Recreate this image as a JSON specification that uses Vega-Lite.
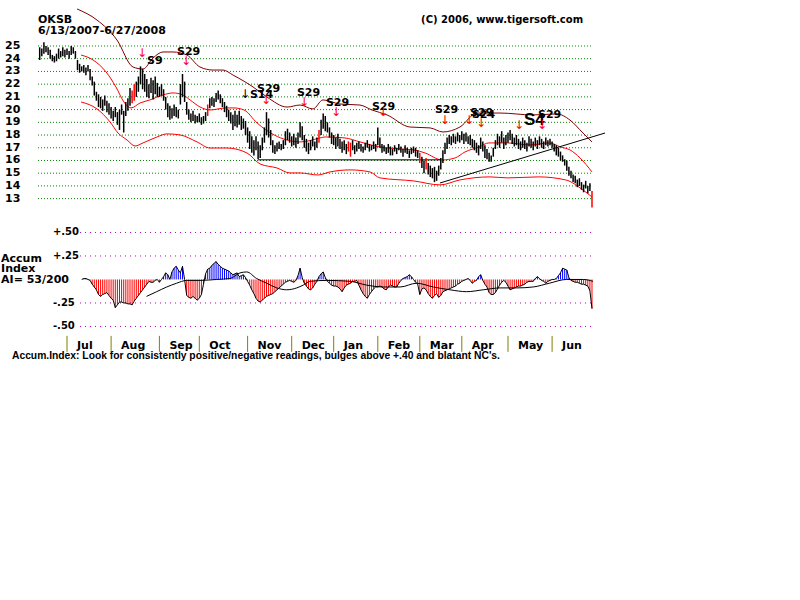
{
"$schema":"https://vega.github.io/schema/vega-lite/v6.json",
"width":800,"height":600,"padding":0,
"autosize":{"type":"fit","contains":"padding"},
"background":"white",
"config":{"view":{"stroke":null}},
"resolve":{"scale":{"y":"independent"}},
"datasets":{
"price":[
{"i":0,"h":24.9,"l":23.9},{"i":1,"h":24.8,"l":24.2},{"i":2,"h":25.3,"l":24.4},{"i":3,"h":25.0,"l":24.5},{"i":4,"h":24.9,"l":24.3},{"i":5,"h":24.7,"l":24.0},{"i":6,"h":24.3,"l":23.8},{"i":7,"h":24.2,"l":23.7},{"i":8,"h":24.4,"l":23.8},{"i":9,"h":24.8,"l":24.0},
{"i":10,"h":24.6,"l":24.1},{"i":11,"h":24.9,"l":24.2},{"i":12,"h":24.7,"l":24.1},{"i":13,"h":24.8,"l":24.3},{"i":14,"h":24.6,"l":24.0},{"i":15,"h":25.0,"l":24.3},{"i":16,"h":24.9,"l":24.4},{"i":17,"h":24.6,"l":24.0},{"i":18,"h":23.9,"l":23.1},{"i":19,"h":23.6,"l":22.9},
{"i":20,"h":23.4,"l":23.0},{"i":21,"h":23.5,"l":22.9},{"i":22,"h":23.3,"l":22.7},{"i":23,"h":23.5,"l":23.0},{"i":24,"h":23.2,"l":22.3},{"i":25,"h":22.6,"l":21.9},{"i":26,"h":22.2,"l":21.1},{"i":27,"h":21.4,"l":20.7},{"i":28,"h":21.2,"l":20.2},{"i":29,"h":21.0,"l":20.1},
{"i":30,"h":20.8,"l":19.9},{"i":31,"h":21.1,"l":20.3},{"i":32,"h":20.7,"l":19.8},{"i":33,"h":20.5,"l":19.6},{"i":34,"h":20.2,"l":19.3},{"i":35,"h":19.9,"l":19.1},{"i":36,"h":20.2,"l":19.4},{"i":37,"h":19.8,"l":18.8},{"i":38,"h":20.0,"l":18.4},{"i":39,"h":20.4,"l":19.6},
{"i":40,"h":19.9,"l":18.2},{"i":41,"h":20.6,"l":19.5},{"i":42,"h":20.9,"l":19.9},{"i":43,"h":21.7,"l":20.3},{"i":44,"h":21.5,"l":20.5},{"i":45,"h":22.0,"l":20.7},{"i":46,"h":22.2,"l":21.0},{"i":47,"h":22.6,"l":21.4},{"i":48,"h":23.4,"l":22.0},{"i":49,"h":23.2,"l":21.6},
{"i":50,"h":22.8,"l":21.4},{"i":51,"h":22.4,"l":21.0},{"i":52,"h":22.0,"l":20.9},{"i":53,"h":22.5,"l":21.3},{"i":54,"h":22.3,"l":20.8},{"i":55,"h":22.6,"l":21.2},{"i":56,"h":22.1,"l":21.0},{"i":57,"h":21.8,"l":21.0},{"i":58,"h":22.0,"l":21.1},{"i":59,"h":21.6,"l":20.7},
{"i":60,"h":21.0,"l":20.0},{"i":61,"h":20.5,"l":19.4},{"i":62,"h":20.3,"l":19.2},{"i":63,"h":20.1,"l":19.3},{"i":64,"h":20.4,"l":19.5},{"i":65,"h":20.2,"l":19.4},{"i":66,"h":20.0,"l":19.3},{"i":67,"h":22.0,"l":20.4},{"i":68,"h":22.8,"l":21.0},{"i":69,"h":22.2,"l":20.6},
{"i":70,"h":20.6,"l":19.6},{"i":71,"h":20.0,"l":19.2},{"i":72,"h":19.7,"l":19.0},{"i":73,"h":19.9,"l":19.1},{"i":74,"h":19.6,"l":18.9},{"i":75,"h":19.5,"l":19.0},{"i":76,"h":19.7,"l":19.0},{"i":77,"h":19.4,"l":18.8},{"i":78,"h":19.5,"l":18.9},{"i":79,"h":19.8,"l":19.1},
{"i":80,"h":20.4,"l":19.5},{"i":81,"h":20.9,"l":20.1},{"i":82,"h":21.0,"l":20.3},{"i":83,"h":20.9,"l":20.2},{"i":84,"h":21.3,"l":20.6},{"i":85,"h":21.5,"l":20.8},{"i":86,"h":21.2,"l":20.5},{"i":87,"h":20.9,"l":20.2},{"i":88,"h":20.6,"l":19.8},{"i":89,"h":20.3,"l":19.4},
{"i":90,"h":20.0,"l":19.1},{"i":91,"h":19.8,"l":18.9},{"i":92,"h":19.6,"l":18.4},{"i":93,"h":19.9,"l":18.7},{"i":94,"h":19.6,"l":18.6},{"i":95,"h":19.9,"l":18.8},{"i":96,"h":19.5,"l":18.4},{"i":97,"h":19.3,"l":18.5},{"i":98,"h":19.1,"l":18.0},{"i":99,"h":18.6,"l":17.4},
{"i":100,"h":18.3,"l":16.9},{"i":101,"h":17.9,"l":16.6},{"i":102,"h":17.6,"l":16.4},{"i":103,"h":17.9,"l":16.8},{"i":104,"h":17.5,"l":16.1},{"i":105,"h":17.2,"l":16.2},{"i":106,"h":17.8,"l":16.8},{"i":107,"h":18.6,"l":17.4},{"i":108,"h":19.8,"l":18.0},{"i":109,"h":19.3,"l":17.8},
{"i":110,"h":18.4,"l":17.2},{"i":111,"h":17.6,"l":16.6},{"i":112,"h":17.2,"l":16.5},{"i":113,"h":17.4,"l":16.7},{"i":114,"h":17.5,"l":16.9},{"i":115,"h":17.3,"l":16.8},{"i":116,"h":17.6,"l":16.9},{"i":117,"h":18.3,"l":17.2},{"i":118,"h":18.5,"l":17.6},{"i":119,"h":18.2,"l":17.4},
{"i":120,"h":17.9,"l":17.1},{"i":121,"h":18.1,"l":17.2},{"i":122,"h":17.8,"l":17.0},{"i":123,"h":18.2,"l":17.3},{"i":124,"h":19.0,"l":17.8},{"i":125,"h":18.7,"l":17.6},{"i":126,"h":18.0,"l":17.0},{"i":127,"h":17.7,"l":16.7},{"i":128,"h":17.4,"l":16.5},{"i":129,"h":17.6,"l":16.8},
{"i":130,"h":17.9,"l":17.1},{"i":131,"h":17.5,"l":16.8},{"i":132,"h":17.8,"l":17.0},{"i":133,"h":18.4,"l":17.4},{"i":134,"h":19.2,"l":18.0},{"i":135,"h":19.7,"l":18.5},{"i":136,"h":19.5,"l":18.3},{"i":137,"h":19.0,"l":18.2},{"i":138,"h":18.6,"l":17.8},{"i":139,"h":18.2,"l":17.3},
{"i":140,"h":18.0,"l":17.2},{"i":141,"h":17.8,"l":16.9},{"i":142,"h":18.1,"l":17.1},{"i":143,"h":17.7,"l":16.9},{"i":144,"h":17.5,"l":16.6},{"i":145,"h":17.6,"l":16.8},{"i":146,"h":17.3,"l":16.5},{"i":147,"h":17.5,"l":16.7},{"i":148,"h":17.4,"l":16.3},{"i":149,"h":17.6,"l":16.8},
{"i":150,"h":17.2,"l":16.5},{"i":151,"h":17.4,"l":16.7},{"i":152,"h":17.5,"l":16.9},{"i":153,"h":17.3,"l":16.7},{"i":154,"h":17.1,"l":16.6},{"i":155,"h":17.4,"l":16.8},{"i":156,"h":17.6,"l":17.0},{"i":157,"h":17.3,"l":16.7},{"i":158,"h":17.2,"l":16.8},{"i":159,"h":17.5,"l":16.9},
{"i":160,"h":17.3,"l":16.7},{"i":161,"h":18.6,"l":17.2},{"i":162,"h":17.8,"l":17.0},{"i":163,"h":17.3,"l":16.6},{"i":164,"h":17.2,"l":16.7},{"i":165,"h":17.0,"l":16.5},{"i":166,"h":17.3,"l":16.6},{"i":167,"h":17.1,"l":16.4},{"i":168,"h":16.9,"l":16.4},{"i":169,"h":17.2,"l":16.7},
{"i":170,"h":17.0,"l":16.5},{"i":171,"h":17.3,"l":16.8},{"i":172,"h":17.1,"l":16.6},{"i":173,"h":16.9,"l":16.3},{"i":174,"h":17.2,"l":16.6},{"i":175,"h":17.0,"l":16.5},{"i":176,"h":16.8,"l":16.2},{"i":177,"h":17.0,"l":16.5},{"i":178,"h":17.1,"l":16.6},{"i":179,"h":17.0,"l":16.3},
{"i":180,"h":16.8,"l":16.2},{"i":181,"h":16.6,"l":15.8},{"i":182,"h":16.3,"l":15.4},{"i":183,"h":16.0,"l":15.0},{"i":184,"h":16.2,"l":15.3},{"i":185,"h":15.8,"l":14.9},{"i":186,"h":15.6,"l":14.7},{"i":187,"h":15.4,"l":14.6},{"i":188,"h":15.5,"l":14.3},{"i":189,"h":15.2,"l":14.4},
{"i":190,"h":15.6,"l":14.8},{"i":191,"h":16.2,"l":15.3},{"i":192,"h":16.8,"l":15.8},{"i":193,"h":17.4,"l":16.5},{"i":194,"h":17.8,"l":16.9},{"i":195,"h":18.0,"l":17.3},{"i":196,"h":17.9,"l":17.2},{"i":197,"h":18.1,"l":17.4},{"i":198,"h":17.9,"l":17.3},{"i":199,"h":18.2,"l":17.5},
{"i":200,"h":18.0,"l":17.4},{"i":201,"h":18.3,"l":17.6},{"i":202,"h":18.1,"l":17.3},{"i":203,"h":18.2,"l":17.5},{"i":204,"h":17.9,"l":17.3},{"i":205,"h":18.0,"l":17.2},{"i":206,"h":17.7,"l":17.0},{"i":207,"h":17.6,"l":16.8},{"i":208,"h":17.4,"l":16.6},{"i":209,"h":17.2,"l":16.4},
{"i":210,"h":17.8,"l":16.9},{"i":211,"h":17.5,"l":16.7},{"i":212,"h":17.2,"l":16.2},{"i":213,"h":16.9,"l":16.1},{"i":214,"h":16.6,"l":15.9},{"i":215,"h":16.4,"l":15.9},{"i":216,"h":17.0,"l":16.3},{"i":217,"h":17.6,"l":16.9},{"i":218,"h":18.1,"l":17.2},{"i":219,"h":17.9,"l":17.0},
{"i":220,"h":18.3,"l":17.4},{"i":221,"h":17.8,"l":16.9},{"i":222,"h":18.0,"l":17.2},{"i":223,"h":18.2,"l":17.4},{"i":224,"h":18.4,"l":17.6},{"i":225,"h":18.1,"l":17.3},{"i":226,"h":17.8,"l":17.1},{"i":227,"h":18.0,"l":17.2},{"i":228,"h":17.7,"l":16.9},{"i":229,"h":17.5,"l":16.8},
{"i":230,"h":17.8,"l":17.0},{"i":231,"h":17.6,"l":16.9},{"i":232,"h":17.4,"l":16.7},{"i":233,"h":17.9,"l":17.1},{"i":234,"h":17.7,"l":17.0},{"i":235,"h":17.5,"l":16.8},{"i":236,"h":17.8,"l":17.1},{"i":237,"h":17.6,"l":16.9},{"i":238,"h":17.9,"l":17.2},{"i":239,"h":17.7,"l":17.0},
{"i":240,"h":17.5,"l":16.9},{"i":241,"h":17.8,"l":17.2},{"i":242,"h":17.6,"l":17.1},{"i":243,"h":17.7,"l":17.2},{"i":244,"h":17.5,"l":17.0},{"i":245,"h":17.3,"l":16.7},{"i":246,"h":17.2,"l":16.4},{"i":247,"h":17.0,"l":16.3},{"i":248,"h":16.7,"l":16.0},{"i":249,"h":16.4,"l":15.9},
{"i":250,"h":16.1,"l":15.6},{"i":251,"h":16.0,"l":15.2},{"i":252,"h":15.5,"l":14.8},{"i":253,"h":15.2,"l":14.6},{"i":254,"h":14.9,"l":14.3},{"i":255,"h":14.8,"l":14.2},{"i":256,"h":14.5,"l":13.9},{"i":257,"h":14.6,"l":14.0},{"i":258,"h":14.3,"l":13.7},{"i":259,"h":14.1,"l":13.5},
{"i":260,"h":14.4,"l":13.8},{"i":261,"h":14.0,"l":13.4},{"i":262,"h":14.2,"l":13.6},{"i":263,"h":13.6,"l":12.3}
],
"upper":[{"i":17.8,"p":27.91},{"i":27.3,"p":27.04},{"i":36.8,"p":25.47},{"i":44.4,"p":23.35},{"i":49.2,"p":23.19},{"i":54.0,"p":24.06},{"i":58.7,"p":24.53},{"i":63.5,"p":24.53},{"i":70.1,"p":24.29},{"i":76.3,"p":23.35},{"i":82.5,"p":23.11},{"i":87.3,"p":23.11},{"i":92.0,"p":22.72},{"i":101.6,"p":21.78},{"i":108.2,"p":20.99},{"i":117.8,"p":20.2},{"i":124.0,"p":20.36},{"i":130.1,"p":20.05},{"i":134.9,"p":20.76},{"i":143.0,"p":20.44},{"i":152.5,"p":20.36},{"i":158.2,"p":19.97},{"i":165.4,"p":19.58},{"i":176.3,"p":18.63},{"i":185.9,"p":18.56},{"i":192.0,"p":18.24},{"i":200.1,"p":18.63},{"i":208.2,"p":19.73},{"i":219.2,"p":19.73},{"i":234.9,"p":19.58},{"i":246.3,"p":19.66},{"i":252.5,"p":19.18},{"i":258.7,"p":18.16},{"i":263,"p":17.46}],
"mid":[{"i":19.7,"p":24.29},{"i":25.4,"p":23.9},{"i":31.6,"p":22.96},{"i":36.3,"p":21.78},{"i":40.1,"p":20.6},{"i":43.5,"p":20.13},{"i":47.8,"p":20.52},{"i":52.5,"p":20.76},{"i":58.7,"p":21.15},{"i":63.5,"p":21.31},{"i":68.2,"p":21.15},{"i":71.6,"p":20.76},{"i":76.3,"p":20.21},{"i":81.1,"p":19.97},{"i":88.7,"p":20.13},{"i":92.5,"p":20.13},{"i":97.3,"p":19.97},{"i":103.5,"p":18.95},{"i":111.6,"p":18.01},{"i":117.8,"p":17.61},{"i":124.4,"p":17.46},{"i":133.5,"p":17.77},{"i":135.9,"p":17.85},{"i":145.4,"p":17.77},{"i":152.5,"p":17.46},{"i":162.0,"p":17.06},{"i":171.6,"p":16.91},{"i":178.2,"p":16.83},{"i":183.5,"p":16.59},{"i":191.6,"p":16.04},{"i":197.8,"p":16.2},{"i":202.5,"p":16.67},{"i":209.2,"p":17.06},{"i":213.9,"p":17.38},{"i":222.8,"p":17.38},{"i":233.5,"p":17.22},{"i":242.8,"p":17.38},{"i":248.0,"p":17.06},{"i":252.5,"p":16.83},{"i":257.3,"p":16.2},{"i":263,"p":15.1}],
"lower":[{"i":19.7,"p":20.6},{"i":27.3,"p":20.05},{"i":33.5,"p":19.03},{"i":37.3,"p":18.16},{"i":41.6,"p":17.61},{"i":45.4,"p":17.14},{"i":49.2,"p":17.38},{"i":55.9,"p":17.85},{"i":60.6,"p":18.09},{"i":66.8,"p":18.01},{"i":74.9,"p":17.46},{"i":81.1,"p":16.98},{"i":89.2,"p":16.98},{"i":98.7,"p":16.59},{"i":104.9,"p":15.73},{"i":113.0,"p":15.41},{"i":119.2,"p":15.02},{"i":124.0,"p":15.02},{"i":132.5,"p":14.86},{"i":138.2,"p":15.1},{"i":147.8,"p":15.26},{"i":157.3,"p":15.1},{"i":162.0,"p":14.63},{"i":178.2,"p":14.39},{"i":190.6,"p":14.08},{"i":200.1,"p":14.47},{"i":214.4,"p":14.71},{"i":222.9,"p":14.63},{"i":237.6,"p":14.71},{"i":250.5,"p":14.47},{"i":258.7,"p":13.68},{"i":263,"p":13.13}],
"trend":[{"i":104,"i2":190.6,"p":16.05,"p2":16.05},{"i":190.6,"i2":269.2,"p":14.23,"p2":18.16}],
"accum":[
{"i":20,"a":0.0},{"i":21,"a":0.01},{"i":22,"a":0.01},{"i":23,"a":0.0},{"i":24,"a":-0.01},{"i":25,"a":-0.05},{"i":26,"a":-0.08},{"i":27,"a":-0.11},{"i":28,"a":-0.16},{"i":29,"a":-0.18},
{"i":30,"a":-0.16},{"i":31,"a":-0.15},{"i":32,"a":-0.14},{"i":33,"a":-0.17},{"i":34,"a":-0.2},{"i":35,"a":-0.22},{"i":36,"a":-0.3},{"i":37,"a":-0.27},{"i":38,"a":-0.24},{"i":39,"a":-0.24},
{"i":40,"a":-0.25},{"i":41,"a":-0.25},{"i":42,"a":-0.26},{"i":43,"a":-0.26},{"i":44,"a":-0.27},{"i":45,"a":-0.23},{"i":46,"a":-0.2},{"i":47,"a":-0.17},{"i":48,"a":-0.14},{"i":49,"a":-0.11},
{"i":50,"a":-0.08},{"i":51,"a":-0.05},{"i":52,"a":-0.02},{"i":53,"a":-0.03},{"i":54,"a":-0.03},{"i":55,"a":-0.01},{"i":56,"a":0.0},{"i":57,"a":-0.03},{"i":58,"a":0.0},{"i":59,"a":0.03},
{"i":60,"a":0.07},{"i":61,"a":0.05},{"i":62,"a":0.0},{"i":63,"a":0.08},{"i":64,"a":0.12},{"i":65,"a":0.14},{"i":66,"a":0.1},{"i":67,"a":0.07},{"i":68,"a":0.14},{"i":69,"a":0.0},
{"i":70,"a":-0.17},{"i":71,"a":-0.19},{"i":72,"a":-0.2},{"i":73,"a":-0.18},{"i":74,"a":-0.2},{"i":75,"a":-0.22},{"i":76,"a":-0.2},{"i":77,"a":-0.16},{"i":78,"a":-0.05},{"i":79,"a":0.06},
{"i":80,"a":0.11},{"i":81,"a":0.12},{"i":82,"a":0.15},{"i":83,"a":0.17},{"i":84,"a":0.19},{"i":85,"a":0.16},{"i":86,"a":0.14},{"i":87,"a":0.12},{"i":88,"a":0.11},{"i":89,"a":0.1},
{"i":90,"a":0.09},{"i":91,"a":0.07},{"i":92,"a":0.05},{"i":93,"a":0.06},{"i":94,"a":0.07},{"i":95,"a":0.03},{"i":96,"a":0.04},{"i":97,"a":0.05},{"i":98,"a":0.02},{"i":99,"a":-0.02},
{"i":100,"a":-0.06},{"i":101,"a":-0.11},{"i":102,"a":-0.15},{"i":103,"a":-0.2},{"i":104,"a":-0.23},{"i":105,"a":-0.24},{"i":106,"a":-0.22},{"i":107,"a":-0.2},{"i":108,"a":-0.18},{"i":109,"a":-0.17},
{"i":110,"a":-0.16},{"i":111,"a":-0.15},{"i":112,"a":-0.13},{"i":113,"a":-0.11},{"i":114,"a":-0.09},{"i":115,"a":-0.07},{"i":116,"a":-0.05},{"i":117,"a":-0.03},{"i":118,"a":-0.02},{"i":119,"a":-0.01},
{"i":120,"a":-0.02},{"i":121,"a":-0.03},{"i":122,"a":-0.01},{"i":123,"a":0.04},{"i":124,"a":0.12},{"i":125,"a":0.02},{"i":126,"a":-0.04},{"i":127,"a":-0.07},{"i":128,"a":-0.1},{"i":129,"a":-0.11},
{"i":130,"a":-0.09},{"i":131,"a":-0.05},{"i":132,"a":-0.02},{"i":133,"a":0.03},{"i":134,"a":0.06},{"i":135,"a":0.08},{"i":136,"a":0.02},{"i":137,"a":-0.02},{"i":138,"a":-0.04},{"i":139,"a":-0.06},
{"i":140,"a":-0.07},{"i":141,"a":-0.07},{"i":142,"a":-0.08},{"i":143,"a":-0.1},{"i":144,"a":-0.13},{"i":145,"a":-0.09},{"i":146,"a":-0.06},{"i":147,"a":-0.05},{"i":148,"a":-0.04},{"i":149,"a":-0.02},
{"i":150,"a":-0.02},{"i":151,"a":-0.01},{"i":152,"a":-0.06},{"i":153,"a":-0.11},{"i":154,"a":-0.15},{"i":155,"a":-0.18},{"i":156,"a":-0.2},{"i":157,"a":-0.16},{"i":158,"a":-0.13},{"i":159,"a":-0.1},
{"i":160,"a":-0.08},{"i":161,"a":-0.08},{"i":162,"a":-0.07},{"i":163,"a":-0.08},{"i":164,"a":-0.1},{"i":165,"a":-0.11},{"i":166,"a":-0.08},{"i":167,"a":-0.06},{"i":168,"a":-0.07},{"i":169,"a":-0.08},
{"i":170,"a":-0.08},{"i":171,"a":-0.04},{"i":172,"a":-0.01},{"i":173,"a":0.01},{"i":174,"a":0.02},{"i":175,"a":0.03},{"i":176,"a":0.05},{"i":177,"a":0.03},{"i":178,"a":0.0},{"i":179,"a":-0.03},
{"i":180,"a":-0.05},{"i":181,"a":-0.16},{"i":182,"a":-0.1},{"i":183,"a":-0.09},{"i":184,"a":-0.11},{"i":185,"a":-0.15},{"i":186,"a":-0.18},{"i":187,"a":-0.2},{"i":188,"a":-0.17},{"i":189,"a":-0.15},
{"i":190,"a":-0.19},{"i":191,"a":-0.17},{"i":192,"a":-0.13},{"i":193,"a":-0.12},{"i":194,"a":-0.11},{"i":195,"a":-0.1},{"i":196,"a":-0.09},{"i":197,"a":-0.08},{"i":198,"a":-0.07},{"i":199,"a":-0.05},
{"i":200,"a":-0.04},{"i":201,"a":-0.02},{"i":202,"a":-0.01},{"i":203,"a":0.0},{"i":204,"a":0.01},{"i":205,"a":-0.01},{"i":206,"a":-0.04},{"i":207,"a":-0.02},{"i":208,"a":-0.01},{"i":209,"a":0.03},
{"i":210,"a":0.05},{"i":211,"a":-0.01},{"i":212,"a":-0.05},{"i":213,"a":-0.08},{"i":214,"a":-0.14},{"i":215,"a":-0.16},{"i":216,"a":-0.16},{"i":217,"a":-0.14},{"i":218,"a":-0.1},{"i":219,"a":-0.06},
{"i":220,"a":-0.03},{"i":221,"a":-0.01},{"i":222,"a":-0.03},{"i":223,"a":-0.07},{"i":224,"a":-0.11},{"i":225,"a":-0.1},{"i":226,"a":-0.09},{"i":227,"a":-0.08},{"i":228,"a":-0.07},{"i":229,"a":-0.07},
{"i":230,"a":-0.06},{"i":231,"a":-0.05},{"i":232,"a":-0.03},{"i":233,"a":-0.02},{"i":234,"a":-0.02},{"i":235,"a":-0.02},{"i":236,"a":0.01},{"i":237,"a":0.03},{"i":238,"a":0.01},{"i":239,"a":-0.01},
{"i":240,"a":-0.02},{"i":241,"a":-0.04},{"i":242,"a":-0.02},{"i":243,"a":-0.01},{"i":244,"a":0.0},{"i":245,"a":0.0},{"i":246,"a":0.01},{"i":247,"a":0.04},{"i":248,"a":0.07},{"i":249,"a":0.12},
{"i":250,"a":0.11},{"i":251,"a":0.1},{"i":252,"a":0.02},{"i":253,"a":-0.01},{"i":254,"a":-0.02},{"i":255,"a":-0.03},{"i":256,"a":-0.03},{"i":257,"a":-0.04},{"i":258,"a":-0.05},{"i":259,"a":-0.05},
{"i":260,"a":-0.06},{"i":261,"a":-0.07},{"i":262,"a":-0.12},{"i":263,"a":-0.31}
],
"ma":[{"i":50.9,"a":-0.18},{"i":55.7,"a":-0.13},{"i":60.5,"a":-0.08},{"i":65.2,"a":-0.04},{"i":70,"a":-0.01},{"i":76.3,"a":-0.01},{"i":84.3,"a":0.0},{"i":90.6,"a":0.01},{"i":95.4,"a":0.07},{"i":98.6,"a":0.08},{"i":103.3,"a":0.01},{"i":108.1,"a":-0.04},{"i":112.9,"a":-0.09},{"i":117.6,"a":-0.11},{"i":122.4,"a":-0.09},{"i":125.5,"a":-0.06},{"i":128.7,"a":-0.02},{"i":136.7,"a":-0.01},{"i":147.8,"a":-0.02},{"i":155.7,"a":-0.06},{"i":163.6,"a":-0.08},{"i":171.6,"a":-0.08},{"i":179.5,"a":-0.04},{"i":187.4,"a":-0.08},{"i":195.4,"a":-0.11},{"i":203.3,"a":-0.13},{"i":211.2,"a":-0.11},{"i":219.2,"a":-0.09},{"i":227.1,"a":-0.09},{"i":235,"a":-0.08},{"i":242.7,"a":-0.04},{"i":250.9,"a":0.0},{"i":258.9,"a":0.0},{"i":263.5,"a":-0.02}],
"pgrid":[{"p":13},{"p":14},{"p":15},{"p":16},{"p":17},{"p":18},{"p":19},{"p":20},{"p":21},{"p":22},{"p":23},{"p":24},{"p":25}],
"agrid":[{"a":0.5,"t":"+.50"},{"a":0.25,"t":"+.25"},{"a":-0.25,"t":"-.25"},{"a":-0.5,"t":"-.50"}],
"months":[{"m":"Jul","i":13},{"m":"Aug","i":34},{"m":"Sep","i":57},{"m":"Oct","i":76},{"m":"Nov","i":99},{"m":"Dec","i":120},{"m":"Jan","i":140},{"m":"Feb","i":161},{"m":"Mar","i":181},{"m":"Apr","i":201},{"m":"May","i":223},{"m":"Jun","i":244}],
"ptext":[{"i":-0.8,"p":27.04,"t":"OKSB"},{"i":-0.8,"p":26.18,"t":"6/13/2007-6/27/2008"}],
"ctext":[{"i":181.6,"p":27.04,"t":"(C) 2006, www.tigersoft.com"}],
"atext":[{"i":-18.4,"a":0.218,"t":"Accum"},{"i":-18.4,"a":0.112,"t":"Index"},{"i":-18.4,"a":-0.005,"t":"AI= 53/200"}],
"caption":[{"i":-13.2,"a":-0.814,"t":"Accum.Index: Look for consistently positive/negative readings, bulges above +.40 and blatant NC's."}],
"sigs":[{"i":51.1,"p":23.82,"t":"S9"},{"i":65.4,"p":24.53,"t":"S29"},{"i":100.1,"p":21.15,"t":"S14"},{"i":103.5,"p":21.62,"t":"S29"},{"i":122.5,"p":21.31,"t":"S29"},{"i":136.3,"p":20.52,"t":"S29"},{"i":158.2,"p":20.21,"t":"S29"},{"i":188.2,"p":19.97,"t":"S29"},{"i":204.9,"p":19.73,"t":"S29"},{"i":205.8,"p":19.6,"t":"S24"},{"i":237.3,"p":19.58,"t":"S29"}],
"bigsigs":[{"i":230.6,"p":19.18,"t":"S4"}],
"redArrows":[{"i":48.7,"p":24.45},{"i":69.7,"p":23.82},{"i":107.8,"p":20.76},{"i":125.9,"p":20.6},{"i":141.1,"p":19.81},{"i":163.5,"p":19.81},{"i":192.9,"p":19.18},{"i":204.4,"p":19.18},{"i":210.1,"p":18.95},{"i":228.2,"p":18.79},{"i":239.2,"p":18.79}],
"blackArrows":[{"i":97.8,"p":21.23}]
},
"layer":[
{"data":{"name":"pgrid"},"mark":{"type":"rule","color":"#008000","strokeDash":[1,2]},
 "encoding":{"x":{"datum":-0.8,"type":"quantitative","scale":{"domain":[-18.905,362.05],"nice":false,"zero":false},"axis":null},"x2":{"datum":263},
 "y":{"field":"p","type":"quantitative","scale":{"domain":[-18.553,28.616],"nice":false,"zero":false},"axis":null}}},
{"data":{"name":"agrid"},"mark":{"type":"rule","color":"#b000b0","strokeDash":[1,4]},
 "encoding":{"x":{"datum":19.2,"type":"quantitative","scale":{"domain":[-18.905,362.05],"nice":false,"zero":false},"axis":null},"x2":{"datum":263.5},
 "y":{"field":"a","type":"quantitative","scale":{"domain":[-3.41,2.973],"nice":false,"zero":false},"axis":null}}},
{"data":{"name":"upper"},"mark":{"type":"line","color":"#800000","strokeWidth":1,"interpolate":"monotone"},
 "encoding":{"x":{"field":"i","type":"quantitative","scale":{"domain":[-18.905,362.05],"nice":false,"zero":false},"axis":null},
 "y":{"field":"p","type":"quantitative","scale":{"domain":[-18.553,28.616],"nice":false,"zero":false},"axis":null}}},
{"data":{"name":"mid"},"mark":{"type":"line","color":"#ff0000","strokeWidth":1,"interpolate":"monotone"},
 "encoding":{"x":{"field":"i","type":"quantitative","scale":{"domain":[-18.905,362.05],"nice":false,"zero":false},"axis":null},
 "y":{"field":"p","type":"quantitative","scale":{"domain":[-18.553,28.616],"nice":false,"zero":false},"axis":null}}},
{"data":{"name":"lower"},"mark":{"type":"line","color":"#ff0000","strokeWidth":1,"interpolate":"monotone"},
 "encoding":{"x":{"field":"i","type":"quantitative","scale":{"domain":[-18.905,362.05],"nice":false,"zero":false},"axis":null},
 "y":{"field":"p","type":"quantitative","scale":{"domain":[-18.553,28.616],"nice":false,"zero":false},"axis":null}}},
{"data":{"name":"trend"},"mark":{"type":"rule","color":"#000000","strokeWidth":1},
 "encoding":{"x":{"field":"i","type":"quantitative","scale":{"domain":[-18.905,362.05],"nice":false,"zero":false},"axis":null},"x2":{"field":"i2"},
 "y":{"field":"p","type":"quantitative","scale":{"domain":[-18.553,28.616],"nice":false,"zero":false},"axis":null},"y2":{"field":"p2"}}},
{"data":{"name":"price"},"mark":{"type":"rule","strokeWidth":1.5},
 "encoding":{"x":{"field":"i","type":"quantitative","scale":{"domain":[-18.905,362.05],"nice":false,"zero":false},"axis":null},
 "y":{"field":"l","type":"quantitative","scale":{"domain":[-18.553,28.616],"nice":false,"zero":false},"axis":null},"y2":{"field":"h"},
 "color":{"condition":{"test":"indexof([44,45,80,133,147,148,181,184,263], datum.i) >= 0","value":"#ff0000"},"value":"#000000"}}},
{"data":{"name":"accum"},"mark":{"type":"rule","strokeWidth":1},
 "encoding":{"x":{"field":"i","type":"quantitative","scale":{"domain":[-18.905,362.05],"nice":false,"zero":false},"axis":null},
 "y":{"field":"a","type":"quantitative","scale":{"domain":[-3.41,2.973],"nice":false,"zero":false},"axis":null},"y2":{"datum":0},
 "color":{"condition":{"test":"datum.a < 0","value":"#ff0000"},"value":"#0000ff"}}},
{"data":{"name":"accum"},"mark":{"type":"line","color":"#000000","strokeWidth":1},
 "encoding":{"x":{"field":"i","type":"quantitative","scale":{"domain":[-18.905,362.05],"nice":false,"zero":false},"axis":null},
 "y":{"field":"a","type":"quantitative","scale":{"domain":[-3.41,2.973],"nice":false,"zero":false},"axis":null}}},
{"data":{"name":"ma"},"mark":{"type":"line","color":"#000000","strokeWidth":1,"interpolate":"monotone"},
 "encoding":{"x":{"field":"i","type":"quantitative","scale":{"domain":[-18.905,362.05],"nice":false,"zero":false},"axis":null},
 "y":{"field":"a","type":"quantitative","scale":{"domain":[-3.41,2.973],"nice":false,"zero":false},"axis":null}}},
{"data":{"name":"months"},"mark":{"type":"rule","color":"#808000","strokeWidth":1},
 "encoding":{"x":{"field":"i","type":"quantitative","scale":{"domain":[-18.905,362.05],"nice":false,"zero":false},"axis":null},
 "y":{"datum":-0.6,"type":"quantitative","scale":{"domain":[-3.41,2.973],"nice":false,"zero":false},"axis":null},"y2":{"datum":-0.77}}},
{"data":{"name":"months"},"mark":{"type":"text","align":"left","baseline":"middle","dx":10,"font":"DejaVu Sans","fontWeight":"bold","fontSize":11,"color":"#000000"},
 "encoding":{"x":{"field":"i","type":"quantitative","scale":{"domain":[-18.905,362.05],"nice":false,"zero":false},"axis":null},
 "y":{"datum":-0.707,"type":"quantitative","scale":{"domain":[-3.41,2.973],"nice":false,"zero":false},"axis":null},"text":{"field":"m"}}},
{"data":{"name":"pgrid"},"mark":{"type":"text","align":"left","baseline":"middle","font":"DejaVu Sans","fontWeight":"bold","fontSize":11,"color":"#000000"},
 "encoding":{"x":{"datum":-16.5,"type":"quantitative","scale":{"domain":[-18.905,362.05],"nice":false,"zero":false},"axis":null},
 "y":{"field":"p","type":"quantitative","scale":{"domain":[-18.553,28.616],"nice":false,"zero":false},"axis":null},"text":{"field":"p","type":"quantitative"}}},
{"data":{"name":"agrid"},"mark":{"type":"text","align":"left","baseline":"middle","font":"DejaVu Sans","fontWeight":"bold","fontSize":10,"color":"#000000"},
 "encoding":{"x":{"datum":6.3,"type":"quantitative","scale":{"domain":[-18.905,362.05],"nice":false,"zero":false},"axis":null},
 "y":{"field":"a","type":"quantitative","scale":{"domain":[-3.41,2.973],"nice":false,"zero":false},"axis":null},"text":{"field":"t"}}},
{"data":{"name":"ptext"},"mark":{"type":"text","align":"left","baseline":"middle","font":"DejaVu Sans","fontWeight":"bold","fontSize":11,"color":"#000000"},
 "encoding":{"x":{"field":"i","type":"quantitative","scale":{"domain":[-18.905,362.05],"nice":false,"zero":false},"axis":null},
 "y":{"field":"p","type":"quantitative","scale":{"domain":[-18.553,28.616],"nice":false,"zero":false},"axis":null},"text":{"field":"t"}}},
{"data":{"name":"ctext"},"mark":{"type":"text","align":"left","baseline":"middle","font":"DejaVu Sans","fontWeight":"bold","fontSize":10,"color":"#000000"},
 "encoding":{"x":{"field":"i","type":"quantitative","scale":{"domain":[-18.905,362.05],"nice":false,"zero":false},"axis":null},
 "y":{"field":"p","type":"quantitative","scale":{"domain":[-18.553,28.616],"nice":false,"zero":false},"axis":null},"text":{"field":"t"}}},
{"data":{"name":"atext"},"mark":{"type":"text","align":"left","baseline":"middle","font":"DejaVu Sans","fontWeight":"bold","fontSize":11,"color":"#000000"},
 "encoding":{"x":{"field":"i","type":"quantitative","scale":{"domain":[-18.905,362.05],"nice":false,"zero":false},"axis":null},
 "y":{"field":"a","type":"quantitative","scale":{"domain":[-3.41,2.973],"nice":false,"zero":false},"axis":null},"text":{"field":"t"}}},
{"data":{"name":"caption"},"mark":{"type":"text","align":"left","baseline":"middle","font":"Liberation Sans","fontWeight":"bold","fontSize":10.3,"color":"#000000"},
 "encoding":{"x":{"field":"i","type":"quantitative","scale":{"domain":[-18.905,362.05],"nice":false,"zero":false},"axis":null},
 "y":{"field":"a","type":"quantitative","scale":{"domain":[-3.41,2.973],"nice":false,"zero":false},"axis":null},"text":{"field":"t"}}},
{"data":{"name":"sigs"},"mark":{"type":"text","align":"left","baseline":"middle","font":"DejaVu Sans","fontWeight":"bold","fontSize":11,"color":"#000000"},
 "encoding":{"x":{"field":"i","type":"quantitative","scale":{"domain":[-18.905,362.05],"nice":false,"zero":false},"axis":null},
 "y":{"field":"p","type":"quantitative","scale":{"domain":[-18.553,28.616],"nice":false,"zero":false},"axis":null},"text":{"field":"t"}}},
{"data":{"name":"bigsigs"},"mark":{"type":"text","align":"left","baseline":"middle","font":"Liberation Sans","fontWeight":"bold","fontSize":17,"color":"#000000"},
 "encoding":{"x":{"field":"i","type":"quantitative","scale":{"domain":[-18.905,362.05],"nice":false,"zero":false},"axis":null},
 "y":{"field":"p","type":"quantitative","scale":{"domain":[-18.553,28.616],"nice":false,"zero":false},"axis":null},"text":{"field":"t"}}},
{"data":{"name":"redArrows"},"mark":{"type":"text","text":"↓","font":"DejaVu Sans","fontWeight":"normal","fontSize":12,"color":"#ff0000","baseline":"middle","align":"center"},
 "encoding":{"x":{"field":"i","type":"quantitative","scale":{"domain":[-18.905,362.05],"nice":false,"zero":false},"axis":null},
 "y":{"field":"p","type":"quantitative","scale":{"domain":[-18.553,28.616],"nice":false,"zero":false},"axis":null}}},
{"data":{"name":"blackArrows"},"mark":{"type":"text","text":"↓","font":"DejaVu Sans","fontWeight":"normal","fontSize":12,"color":"#000000","baseline":"middle","align":"center"},
 "encoding":{"x":{"field":"i","type":"quantitative","scale":{"domain":[-18.905,362.05],"nice":false,"zero":false},"axis":null},
 "y":{"field":"p","type":"quantitative","scale":{"domain":[-18.553,28.616],"nice":false,"zero":false},"axis":null}}}
]
}
